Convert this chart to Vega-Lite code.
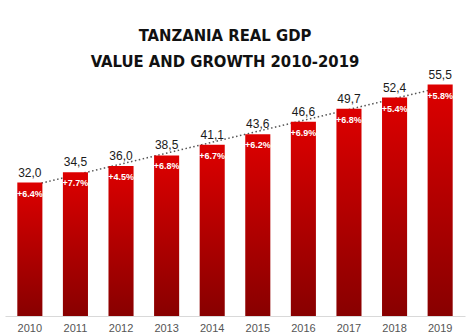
{
  "$schema": "https://vega.github.io/schema/vega-lite/v6.json",
  "autosize": "none",
  "width": 460,
  "height": 246,
  "padding": {"left": 5, "top": 70, "right": 9, "bottom": 20},
  "background": "white",
  "title": {
    "text": ["TANZANIA REAL GDP", "VALUE AND GROWTH 2010-2019"],
    "font": "DejaVu Sans Condensed, DejaVu Sans, sans-serif",
    "fontSize": 16.5,
    "fontWeight": "bold",
    "color": "#111111",
    "anchor": "middle",
    "lineHeight": 26,
    "baseline": "alphabetic",
    "offset": -15,
    "dx": -10
  },
  "data": {
    "values": [
      {"Year": 2010, "GDP": 32.0, "label": "32,0", "growth": "+6.4%"},
      {"Year": 2011, "GDP": 34.5, "label": "34,5", "growth": "+7.7%"},
      {"Year": 2012, "GDP": 36.0, "label": "36,0", "growth": "+4.5%"},
      {"Year": 2013, "GDP": 38.5, "label": "38,5", "growth": "+6.8%"},
      {"Year": 2014, "GDP": 41.1, "label": "41,1", "growth": "+6.7%"},
      {"Year": 2015, "GDP": 43.6, "label": "43,6", "growth": "+6.2%"},
      {"Year": 2016, "GDP": 46.6, "label": "46,6", "growth": "+6.9%"},
      {"Year": 2017, "GDP": 49.7, "label": "49,7", "growth": "+6.8%"},
      {"Year": 2018, "GDP": 52.4, "label": "52,4", "growth": "+5.4%"},
      {"Year": 2019, "GDP": 55.5, "label": "55,5", "growth": "+5.8%"}
    ]
  },
  "encoding": {
    "x": {
      "field": "Year",
      "type": "ordinal",
      "scale": {"paddingInner": 0.45, "paddingOuter": 0.27},
      "axis": {
        "title": null,
        "labelAngle": 0,
        "labelColor": "#555555",
        "labelFont": "Liberation Sans",
        "labelFontSize": 11,
        "labelPadding": 6,
        "ticks": false,
        "domainColor": "#d9d9d9",
        "domainWidth": 1,
        "grid": false
      }
    },
    "y": {
      "field": "GDP",
      "type": "quantitative",
      "scale": {"domain": [0, 59], "nice": false},
      "axis": null
    }
  },
  "layer": [
    {
      "transform": [{"regression": "GDP", "on": "Year"}],
      "mark": {"type": "line", "color": "#555555", "strokeWidth": 1.5, "strokeDash": [1.5, 2.5]},
      "encoding": {}
    },
    {
      "mark": {
        "type": "bar",
        "color": {
          "gradient": "linear",
          "x1": 0, "y1": 0, "x2": 0, "y2": 1,
          "stops": [
            {"offset": 0, "color": "#dd0000"},
            {"offset": 1, "color": "#880000"}
          ]
        }
      }
    },
    {
      "mark": {"type": "text", "font": "Liberation Sans", "fontSize": 12, "color": "#1a1a1a", "baseline": "alphabetic", "dy": -6},
      "encoding": {"text": {"field": "label"}}
    },
    {
      "mark": {"type": "text", "font": "Liberation Sans", "fontSize": 9, "fontWeight": "bold", "color": "white", "baseline": "middle", "dy": 11},
      "encoding": {"text": {"field": "growth"}}
    }
  ],
  "config": {"view": {"stroke": null}}
}
